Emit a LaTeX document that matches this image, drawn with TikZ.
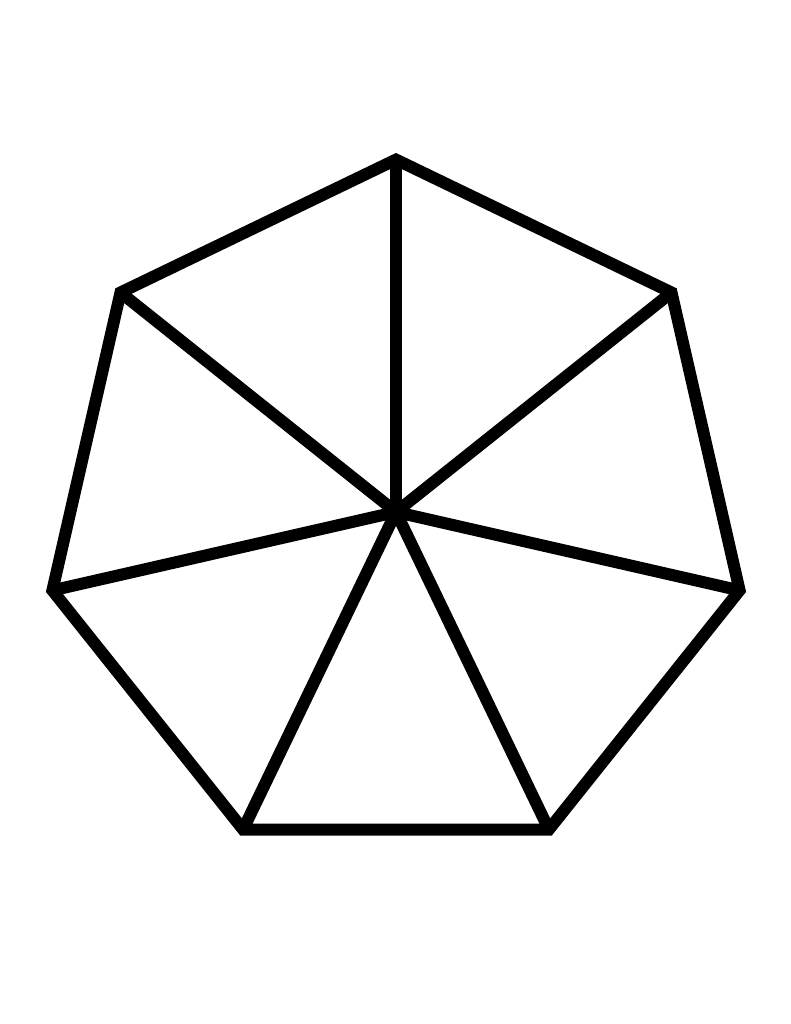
\documentclass[tikz,border=0pt]{standalone}
\begin{document}
\begin{tikzpicture}[x=1pt,y=-1pt,
  edge/.style={line width=12pt,line join=miter,black}]
\useasboundingbox (0,0) rectangle (791,1024);
\coordinate (O) at (396,512);
\coordinate (v0) at (396,159.6);
\coordinate (v1) at (671.5,292.5);
\coordinate (v2) at (739.6,590.4);
\coordinate (v3) at (548.9,829.5);
\coordinate (v4) at (243.1,829.5);
\coordinate (v5) at (52.4,590.4);
\coordinate (v6) at (120.5,292.5);
\foreach \i in {0,...,6} {
  \draw[edge] (O) -- (v\i);
}
\draw[edge] (v0) -- (v1) -- (v2) -- (v3) -- (v4) -- (v5) -- (v6) -- cycle;
\end{tikzpicture}
\end{document}
